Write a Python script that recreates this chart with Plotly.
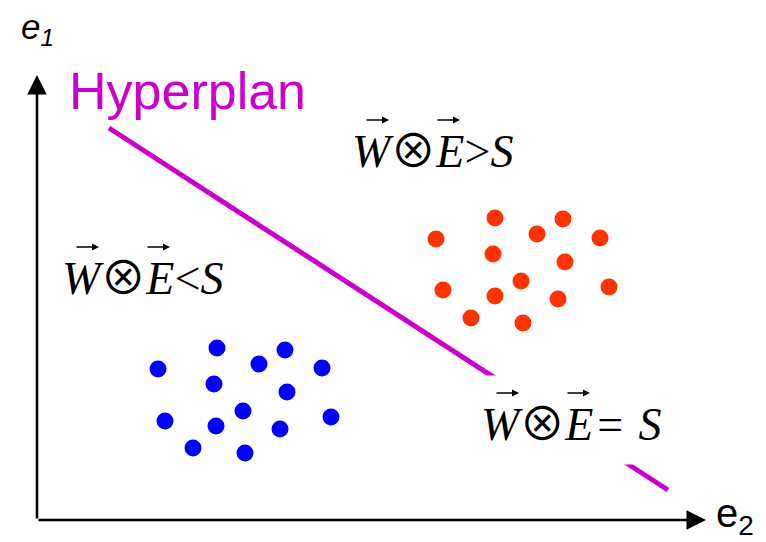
import plotly.graph_objects as go

# ---- data (chart coordinates: e2 horizontal, e1 vertical) ----
class_a_e2 = [12.1, 18.0, 22.2, 24.8, 28.5, 17.7, 25.0, 12.8, 20.6, 17.9, 24.3, 29.4, 15.6, 20.8]
class_a_e1 = [15.1, 17.2, 15.6, 17.0, 15.2, 13.6, 12.8, 9.9, 10.9, 9.4, 9.1, 10.3, 7.2, 6.7]
class_b_e2 = [39.9, 45.8, 50.0, 52.6, 56.3, 45.6, 52.8, 40.6, 48.4, 45.8, 52.1, 57.2, 43.4, 48.6]
class_b_e1 = [28.1, 30.2, 28.6, 30.1, 28.2, 26.6, 25.8, 23.0, 23.9, 22.4, 22.1, 23.3, 20.2, 19.7]
hyperplan_e2 = [7.2, 63.1]
hyperplan_e1 = [39.2, 3.0]
axis_end_e2 = 66.9
axis_end_e1 = 44.5

W, H = 766, 542
OTIMES = '<span style="font-family:Noto Sans CJK JP">⊗</span>'
# (text, left pixel, cap-centre pixel, boxed)
labels = [
    ("<i>W</i>" + OTIMES + "<i>E</i>&gt;<i>S</i>", 350, 144, False),
    ("<i>W</i>" + OTIMES + "<i>E</i>&lt;<i>S</i>", 60, 271, False),
    ("<i>W</i>" + OTIMES + "<i>E</i>\u200a=\u2004<i>S</i>", 480, 417, True),
]

fig = go.Figure()
fig.add_trace(go.Scatter(x=hyperplan_e2, y=hyperplan_e1, mode="lines",
                         line=dict(color="#CC00CC", width=5), hoverinfo="skip"))
fig.add_trace(go.Scatter(x=class_a_e2, y=class_a_e1, mode="markers",
                         marker=dict(color="#0000FF", size=17)))
fig.add_trace(go.Scatter(x=class_b_e2, y=class_b_e1, mode="markers",
                         marker=dict(color="#FF3300", size=17)))

serif = "Liberation Serif, Times New Roman, DejaVu Serif, serif"
sans = "Liberation Sans, Arial, sans-serif"

ann = []
# axes arrows
for tip_x, tip_y in [(axis_end_e2, 0), (0, axis_end_e1)]:
    ann.append(dict(x=tip_x, y=tip_y, ax=0, ay=0, xref="x", yref="y", axref="x", ayref="y",
                    text="", showarrow=True, arrowhead=2, arrowsize=1.5, arrowwidth=2.6,
                    arrowcolor="black", standoff=0))
# axis titles
ann.append(dict(x=0, y=axis_end_e1, xref="x", yref="y", text="<i>e<sub>1</sub></i>",
                showarrow=False, xanchor="center", yanchor="bottom", xshift=0, yshift=22,
                font=dict(family=sans, size=35, color="black")))
ann.append(dict(x=axis_end_e2, y=0, xref="x", yref="y", text="e<sub>2</sub>",
                showarrow=False, xanchor="left", yanchor="middle", xshift=8, yshift=4,
                font=dict(family=sans, size=40, color="black")))
# hyperplan label
ann.append(dict(x=hyperplan_e2[0], y=hyperplan_e1[0], xref="x", yref="y", text="Hyperplan",
                showarrow=False, xanchor="left", yanchor="bottom", xshift=-42, yshift=6,
                font=dict(family=sans, size=52, color="#CC00CC")))
# region labels with vector arrows above W and E
for txt, left, cap, boxed in labels:
    a = dict(x=left / W, y=1 - (cap + 3) / H, xref="paper", yref="paper", text=txt,
             showarrow=False, xanchor="left", yanchor="middle",
             font=dict(family=serif, size=46, color="black"))
    if boxed:
        a.update(bgcolor="white", borderpad=11, xshift=-11)
    ann.append(a)
    for tip in (39, 110):
        ann.append(dict(x=(left + tip) / W, y=1 - (cap - 24) / H, xref="paper", yref="paper",
                        text="", showarrow=True, ax=-24, ay=0, arrowhead=2, arrowsize=1.0,
                        arrowwidth=1.4, arrowcolor="black", standoff=0))

fig.update_layout(
    width=W, height=H,
    margin=dict(l=0, r=0, t=0, b=0),
    paper_bgcolor="white", plot_bgcolor="white",
    showlegend=False,
    xaxis=dict(range=[-3.7, 72.9], visible=False, fixedrange=True),
    yaxis=dict(range=[-2.2, 52.0], visible=False, fixedrange=True),
    annotations=ann,
)
fig.write_html("out.html", config={"displayModeBar": False},
               post_script="document.body.style.margin='0';")
